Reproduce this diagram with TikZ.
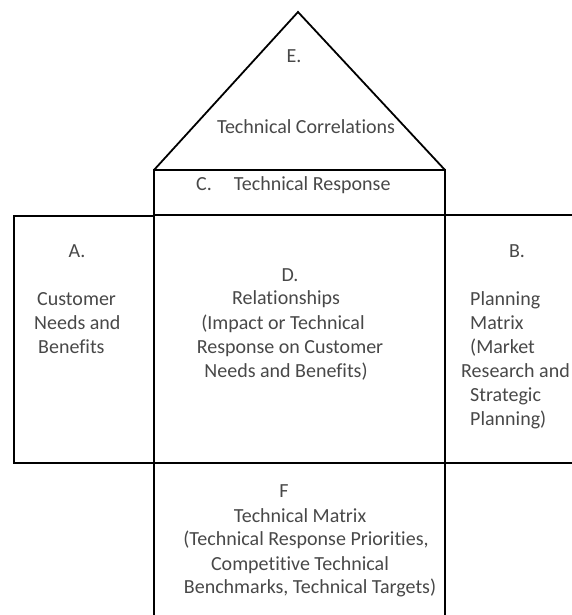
\documentclass[tikz,border=0pt]{standalone}
\usepackage{fontspec}
\setmainfont[Ligatures={NoCommon}]{Carlito}
\definecolor{txt}{RGB}{72,72,72}
\begin{document}
\begin{tikzpicture}[x=1pt,y=-1pt,
  frame/.style={draw=black,line width=1.8pt,line join=miter},
  lbl/.style={anchor=mid,inner sep=0pt,yshift=-3.5pt,text=txt,font=\fontsize{20}{24}\selectfont},
  lbll/.style={lbl,anchor=mid west}]
\useasboundingbox (0,0) rectangle (571,615);
% shapes
\draw[frame] (154,170) -- (298,12) -- (445,170);
\draw[frame] (154,170) rectangle (445,215);
\draw[frame] (154,215) rectangle (445,463);
\draw[frame] (14,216) rectangle (154,463);
\draw[frame] (445,215) rectangle (580,463);
\draw[frame] (154,463) rectangle (445,625);
% E
\node[lbl] (e1) at (294,57) {E.};
\node[lbl] (e2) at (306,128) {Technical Correlations};
% C
\node[lbll] (c1) at (196,185) {C.\hspace{1.1em}Technical Response};
% A
\node[lbl] (a1) at (77,252) {A.};
\node[lbll] (a2) at (37,300) {Customer};
\node[lbll] (a3) at (34,324) {Needs and};
\node[lbll] (a4) at (38,348) {Benefits};
% D
\node[lbl] (d1) at (290,276) {D.};
\node[lbl] (d2) at (286,299) {Relationships};
\node[lbl] (d3) at (283,324) {(Impact or Technical};
\node[lbl] (d4) at (290,348) {Response on Customer};
\node[lbl] (d5) at (286,372) {Needs and Benefits)};
% B
\node[lbl] (b1) at (517,252) {B.};
\node[lbll] (b2) at (470,300) {Planning};
\node[lbll] (b3) at (470,324) {Matrix};
\node[lbll] (b4) at (470,348) {(Market};
\node[lbll] (b5) at (461,372) {Research and};
\node[lbll] (b6) at (470,396) {Strategic};
\node[lbll] (b7) at (470,420) {Planning)};
% F
\node[lbl] (f1) at (284,492) {F};
\node[lbl] (f2) at (300,517) {Technical Matrix};
\node[lbl] (f3) at (306,540) {(Technical Response Priorities,};
\node[lbl] (f4) at (300,565) {Competitive Technical};
\node[lbl] (f5) at (310,588) {Benchmarks, Technical Targets)};
\end{tikzpicture}
\end{document}
